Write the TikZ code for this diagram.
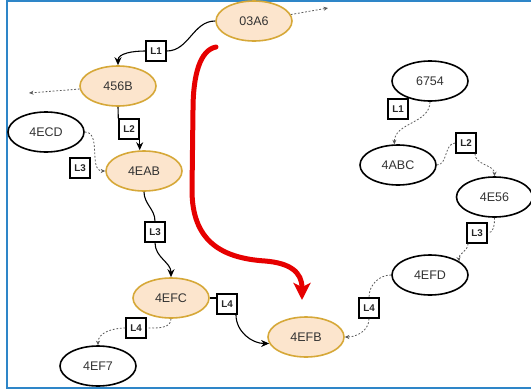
\documentclass[tikz,border=0pt]{standalone}
\usepackage{fontspec}
\setmainfont{Liberation Sans}
\usetikzlibrary{shapes.geometric,arrows.meta}
\definecolor{peach}{RGB}{252,229,205}
\definecolor{gold}{RGB}{214,168,56}
\definecolor{frameblue}{RGB}{46,134,200}
\definecolor{txt}{RGB}{51,51,51}
\definecolor{dotcol}{RGB}{90,90,90}
\definecolor{redarrow}{RGB}{230,0,0}
\begin{document}
\begin{tikzpicture}[x=1pt,y=-1pt,
  nd/.style={ellipse, minimum width=76pt, minimum height=40pt, inner sep=0pt, line width=1.6pt, font=\fontsize{12.5}{14}\selectfont, text=txt},
  hot/.style={nd, draw=gold, fill=peach},
  plain/.style={nd, draw=black, fill=white},
  lbl/.style={draw=black, fill=white, line width=1.9pt, minimum size=19.5pt, inner sep=0pt, font=\bfseries\fontsize{9.8}{11}\selectfont, text=black!85},
  solidc/.style={draw=black, line width=1.1pt},
  solida/.style={solidc, -{Stealth[length=8pt,width=7pt]}},
  dotc/.style={draw=dotcol, line width=0.8pt, dash pattern=on 1.8pt off 1.8pt},
  dota/.style={dotc, -{Stealth[length=4.5pt,width=4pt]}},
]
\useasboundingbox (0,0) rectangle (531,389);
\draw[frameblue, line width=2pt] (531,1) -- (6.7,1) -- (6.7,388) -- (531,388);

% nodes
\node[hot] (n03A6) at (254,21) {03A6};
\node[hot] (n456B) at (118,86) {456B};
\node[plain] (n4ECD) at (46,132) {4ECD};
\node[hot] (n4EAB) at (144,171) {4EAB};
\node[hot] (n4EFC) at (171,298) {4EFC};
\node[hot] (n4EFB) at (306,337) {4EFB};
\node[plain] (n4EF7) at (98,366) {4EF7};
\node[plain] (n6754) at (430,81) {6754};
\node[plain] (n4ABC) at (398,165) {4ABC};
\node[plain] (n4E56) at (494.5,197) {4E56};
\node[plain] (n4EFD) at (430,275) {4EFD};

% labels
\node[lbl] (a1) at (156,51) {L1};
\node[lbl] (a2) at (129,129) {L2};
\node[lbl] (a3) at (80,168) {L3};
\node[lbl] (a3b) at (155,232) {L3};
\node[lbl] (a4) at (227,304) {L4};
\node[lbl] (a4b) at (136,328) {L4};
\node[lbl] (b1) at (398,109) {L1};
\node[lbl] (b2) at (466,143) {L2};
\node[lbl] (b3) at (477,233) {L3};
\node[lbl] (b4) at (369,308) {L4};

\coordinate (c1) at (29,93);
\coordinate (c2) at (328,8);
\coordinate (r0) at (216,47);
\coordinate (r1) at (302,300);

% solid connectors
\draw[solidc] (n03A6.west) to[out=180,in=0] (a1.east);
\draw[solida] (a1.west) to[out=180,in=90] (n456B.north);
\draw[solidc] (n456B.south) -- (a2.north west);
\draw[solida] (a2.south east) -- (n4EAB.north -| a2.south east);
\draw[solidc] (n4EAB.south) to[out=-90,in=90] (a3b.north);
\draw[solida] (a3b.south) to[out=-90,in=90] (n4EFC.north);
\draw[solidc] (n4EFC.east) -- (n4EFC.east -| a4.west);
\draw[solida] (a4.-50) to[out=-90,in=180] (n4EFB.190);

% dotted connectors
\draw[dota] (n4ECD.east) to[out=0,in=180] (n4EAB.west);
\draw[dota] (n456B) -- (c1);
\draw[dota] (n03A6) -- (c2);
\draw[dotc] (n4EFC.south) to[out=-90,in=0] (a4b.east);
\draw[dota] (a4b.west) to[out=180,in=90] (n4EF7.north);
\draw[dota] (n6754.south) to[out=-90,in=90] (n4ABC.100);
\draw[dotc] (n4ABC.east) to[out=0,in=180] (b2.west);
\draw[dota] (b2.-50) to[out=-90,in=90] (n4E56.north);
\draw[dotc] (n4E56.south) to[out=-90,in=0] (b3.east);
\draw[dota] (b3.-130) to[out=-90,in=100] (n4EFD.25);
\draw[dotc] (n4EFD.west) to[out=180,in=90] (b4.north);
\draw[dota] (b4.south) to[out=-90,in=0] (n4EFB.east);

% red arrow
\draw[redarrow, line width=5pt, line cap=round, -{Stealth[length=17pt,width=17pt,inset=4pt]}]
  (r0) .. controls (200,50) and (193,75) .. (193,110) -- (192,190)
  .. controls (192,240) and (220,258) .. (265,261)
  .. controls (290,263) and (302,272) .. (r1);
\end{tikzpicture}
\end{document}
